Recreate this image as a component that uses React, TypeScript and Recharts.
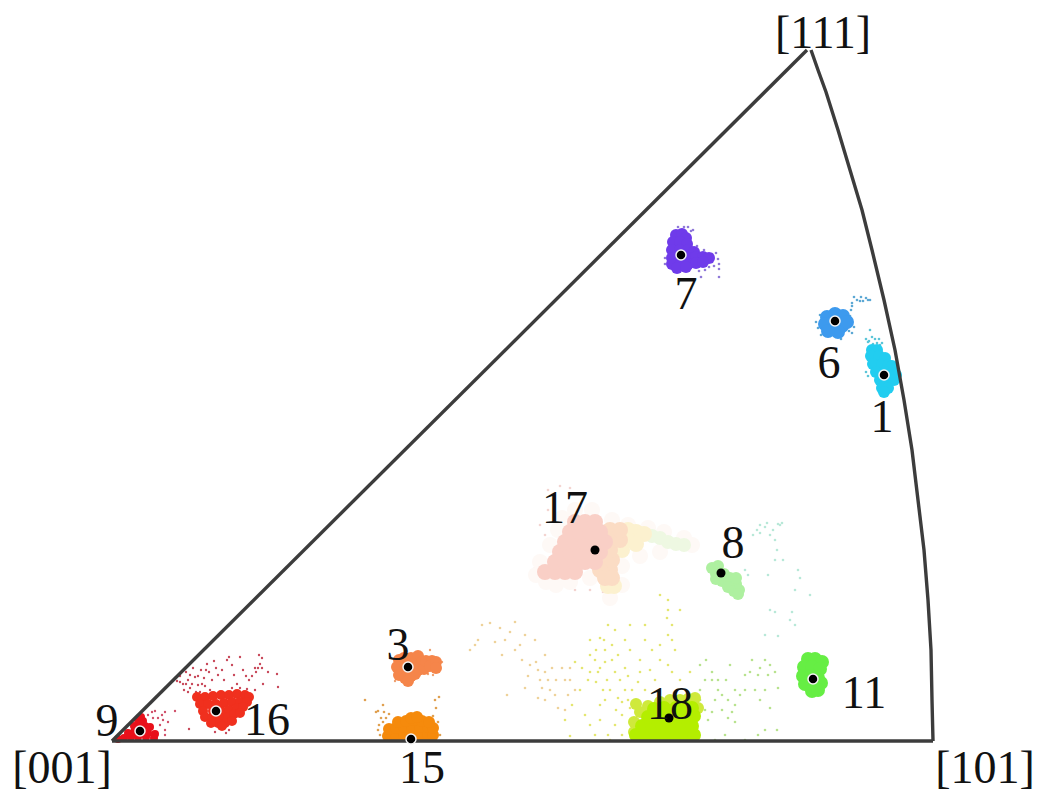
import { ScatterChart, Scatter, XAxis, YAxis } from "recharts"

// all values, in image units (y grows downwards)
const edgeLeft = [[112, 741], [807, 50]]
const edgeBottom = [[112, 741], [933, 741]]
const edgeArc = [[811, 50], [818, 70], [826, 92], [838, 130], [850, 170], [862, 210], [872, 250], [884, 300], [895, 350], [904, 400], [912, 450], [918, 500], [924, 550], [928, 600], [931, 650], [932, 700], [933, 741]]

const orientations = [[681, 255], [835, 321], [884, 375], [408, 667], [140, 731], [216, 711], [411, 739], [813, 679]]
const orientationsPale = [[595, 550], [721, 573], [669, 718]]

const labels = [
  { x: 823, y: 32, text: "[111]" },
  { x: 62, y: 767, text: "[001]" },
  { x: 985, y: 767, text: "[101]" },
  { x: 686, y: 293, text: "7" },
  { x: 829, y: 362, text: "6" },
  { x: 882, y: 416, text: "1" },
  { x: 565, y: 507, text: "17" },
  { x: 733, y: 542, text: "8" },
  { x: 398, y: 644, text: "3" },
  { x: 107, y: 720, text: "9" },
  { x: 267, y: 719, text: "16" },
  { x: 422, y: 767, text: "15" },
  { x: 670, y: 703, text: "18" },
  { x: 864, y: 692, text: "11" },
]

const core7 = [[676, 235], [682, 234], [686, 238], [673, 242], [680, 242], [687, 244], [672, 250], [680, 250], [688, 250], [694, 252], [672, 258], [680, 258], [688, 258], [696, 257], [703, 257], [709, 258], [672, 264], [680, 265], [688, 264], [696, 263], [703, 262], [677, 268], [686, 267]]
const specks7 = [[691, 231], [688, 227], [678, 227], [693, 230], [712, 262], [718, 259], [719, 269], [719, 277], [719, 264], [701, 277], [716, 253], [705, 270], [709, 267], [684, 227], [697, 246], [712, 254], [665, 258], [665, 264], [704, 250], [714, 266], [699, 271]]

const core6 = [[835, 321], [827, 317], [835, 314], [843, 316], [825, 324], [833, 328], [842, 326], [847, 322], [838, 332], [828, 331]]
const specks6 = [[852, 303], [854, 297], [860, 301], [861, 297], [868, 300], [870, 300], [851, 310], [852, 306], [850, 316], [821, 335], [849, 331], [854, 327], [820, 315], [857, 300], [863, 301], [866, 298], [841, 339], [818, 328], [816, 322], [852, 333]]

const core1 = [[872, 350], [877, 350], [871, 356], [879, 356], [885, 358], [873, 364], [882, 364], [888, 365], [892, 366], [876, 372], [885, 372], [892, 373], [896, 375], [880, 380], [887, 380], [894, 380], [882, 388], [888, 388], [884, 392]]
const specks1 = [[870, 330], [872, 337], [869, 341], [875, 339], [879, 339], [882, 343], [873, 344], [866, 339], [880, 345], [866, 372], [868, 376], [868, 342], [877, 343]]

const core9 = [[118, 739], [124, 738], [131, 737], [138, 737], [146, 737], [154, 738], [128, 733], [134, 732], [141, 733], [148, 733], [155, 734], [134, 726], [140, 726], [145, 726], [150, 727], [138, 720], [143, 721], [141, 717]]
const specks9 = [[148, 715], [155, 711], [165, 712], [175, 711], [153, 718], [158, 718], [168, 722], [163, 720], [165, 730], [165, 735], [160, 725], [152, 712], [162, 715]]

const core16 = [[197, 697], [205, 697], [213, 696], [221, 695], [229, 695], [237, 694], [245, 695], [249, 697], [200, 704], [208, 704], [216, 704], [224, 703], [232, 702], [240, 702], [247, 702], [203, 711], [213, 711], [221, 711], [229, 710], [237, 708], [243, 707], [205, 717], [212, 718], [220, 718], [228, 717], [234, 714], [240, 713], [225, 723], [218, 723], [211, 723], [232, 721], [222, 726]]
const specks16 = [[177, 681], [180, 676], [183, 684], [186, 672], [188, 680], [190, 688], [184, 690], [193, 668], [195, 677], [198, 685], [196, 692], [201, 670], [204, 678], [205, 686], [207, 664], [209, 672], [212, 680], [214, 661], [216, 668], [218, 675], [222, 670], [224, 680], [227, 660], [229, 657], [232, 665], [234, 675], [237, 684], [232, 688], [240, 657], [243, 670], [246, 676], [249, 680], [252, 676], [256, 672], [258, 668], [260, 664], [262, 658], [259, 655], [255, 668], [262, 668], [268, 672], [277, 674], [278, 687], [263, 684], [255, 690], [247, 689], [240, 688], [210, 690], [200, 692], [186, 684], [188, 692], [189, 729], [215, 732], [226, 733], [229, 730], [190, 675], [198, 676], [206, 670], [192, 684], [202, 684], [180, 682]]

const core3 = [[399, 660], [404, 658], [411, 658], [418, 656], [397, 667], [405, 667], [413, 664], [422, 662], [399, 675], [405, 678], [411, 676], [418, 670], [424, 669], [426, 661], [432, 661], [430, 666], [436, 662], [436, 668], [408, 681], [415, 674]]
const specks3 = [[430, 650], [440, 668], [442, 662], [428, 674], [433, 675], [395, 681]]

const core15 = [[388, 736], [396, 735], [404, 735], [412, 735], [420, 735], [428, 735], [433, 735], [389, 729], [396, 728], [404, 727], [412, 727], [420, 727], [428, 727], [433, 728], [398, 722], [406, 721], [414, 720], [422, 721], [429, 722], [411, 718], [417, 717]]
const specks15 = [[376, 712], [378, 711], [383, 705], [384, 712], [381, 718], [379, 725], [365, 700], [435, 700], [439, 697], [433, 716], [378, 730], [380, 735], [436, 708], [386, 718], [389, 714], [383, 722], [440, 735], [438, 722]]

const core18 = [[636, 735], [646, 735], [656, 735], [666, 735], [676, 735], [686, 735], [694, 735], [642, 726], [652, 726], [662, 726], [672, 726], [682, 726], [692, 726], [648, 717], [658, 717], [668, 717], [678, 717], [688, 717], [694, 716], [654, 709], [664, 708], [676, 708], [686, 708], [692, 708]]
const upper18 = [[695, 698], [688, 699], [680, 700], [670, 700], [660, 702], [648, 706], [640, 712], [634, 722], [634, 732], [636, 704], [698, 708]]
const specksYellow = [[610, 740], [615, 725], [622, 715], [628, 700], [618, 698], [625, 690], [607, 680], [615, 672], [625, 668], [600, 668], [590, 672], [582, 668], [575, 662], [590, 655], [605, 650], [612, 645], [600, 638], [590, 640], [608, 625], [667, 618], [672, 625], [668, 635], [675, 650], [640, 660], [650, 670], [668, 665], [652, 650], [645, 640], [630, 650], [580, 690], [572, 705], [565, 720], [585, 715], [600, 705], [595, 735], [605, 700], [612, 660], [645, 625], [680, 610], [668, 600], [660, 595], [603, 590], [608, 600], [620, 680], [628, 676], [632, 690], [638, 682], [622, 702], [630, 708], [616, 710], [610, 690], [603, 690], [596, 682], [588, 680], [595, 660], [605, 662], [618, 655], [625, 640], [604, 640], [596, 650], [615, 630], [598, 672], [640, 672], [655, 680], [645, 690], [660, 660], [672, 672], [680, 680], [690, 672], [600, 720], [608, 735], [622, 735], [570, 736], [590, 725], [630, 625], [668, 610], [672, 640], [660, 645]]
const specksOrange = [[470, 650], [475, 645], [478, 640], [482, 625], [490, 623], [505, 640], [510, 632], [515, 622], [520, 645], [525, 635], [502, 655], [530, 665], [545, 672], [540, 680], [552, 668], [550, 690], [538, 698], [545, 700], [565, 680], [568, 695], [575, 690], [570, 680], [507, 695], [525, 688], [545, 655], [558, 708], [522, 660], [535, 640], [542, 688], [548, 680], [556, 680], [562, 668], [538, 670], [536, 662], [528, 676], [570, 668], [555, 695], [565, 710], [500, 628], [495, 642], [515, 650]]
const specksGreen = [[700, 665], [706, 660], [712, 672], [718, 680], [722, 695], [728, 700], [735, 705], [715, 700], [700, 690], [708, 720], [728, 718], [735, 722], [745, 690], [755, 690], [760, 668], [770, 665], [745, 675], [752, 660], [765, 690], [778, 688], [770, 708], [765, 730], [758, 735], [777, 730], [745, 740], [725, 735], [715, 740], [700, 700], [712, 680], [760, 700], [705, 710], [712, 712], [722, 710], [732, 712], [718, 690], [726, 680], [735, 690], [750, 672], [758, 675], [765, 660], [740, 695], [768, 675], [775, 672], [705, 680], [730, 665]]

const halo17 = [[536, 575], [546, 582], [540, 562], [550, 545], [558, 530], [562, 518], [575, 510], [592, 510], [612, 520], [628, 525], [648, 528], [664, 532], [684, 538], [692, 545], [660, 552], [640, 556], [622, 566], [622, 585], [610, 598], [590, 578], [570, 582], [556, 585]]
const core17Pink = [[545, 572], [555, 572], [565, 572], [575, 572], [555, 562], [565, 562], [575, 562], [585, 562], [595, 562], [560, 552], [570, 552], [580, 552], [590, 552], [600, 552], [565, 542], [575, 542], [585, 542], [595, 542], [605, 542], [570, 532], [580, 532], [590, 532], [600, 532], [575, 522], [585, 522], [595, 522]]
const core17Peach = [[600, 570], [610, 570], [605, 560], [612, 560], [610, 550], [612, 540], [620, 540], [610, 530], [620, 530], [605, 578], [612, 578]]
const core17Yellow = [[628, 530], [636, 532], [644, 534], [628, 540], [636, 544], [622, 550], [608, 586], [614, 586], [622, 538]]
const core17Green = [[652, 536], [660, 538], [668, 542], [676, 544], [684, 545]]
const specks17 = [[548, 490], [552, 495], [560, 486], [570, 488], [548, 510], [540, 525], [545, 535], [550, 545], [538, 560], [535, 568], [537, 575], [552, 585], [572, 582], [590, 590], [603, 592], [575, 590], [610, 595], [555, 530], [612, 520], [595, 515]]

const core8 = [[712, 568], [718, 566], [716, 574], [724, 574], [722, 581], [730, 578], [728, 587], [736, 584], [734, 591], [739, 590], [716, 579], [736, 578], [738, 594]]
const specks8 = [[760, 525], [767, 523], [780, 525], [778, 524], [773, 530], [775, 540], [777, 550], [775, 560], [783, 560], [753, 535], [760, 533], [798, 570], [800, 578], [768, 575], [795, 590], [810, 595], [770, 610], [775, 612], [790, 620], [795, 625], [792, 612], [765, 635], [778, 636], [742, 595], [748, 575], [765, 527], [770, 535], [782, 523], [757, 530], [745, 570]]

const core11 = [[808, 659], [815, 659], [822, 662], [804, 667], [812, 667], [820, 669], [803, 676], [811, 676], [818, 678], [805, 684], [814, 685], [821, 683], [812, 691], [818, 690]]

const toPoints = (list: number[][]) => list.map(([x, y]) => ({ x, y }))

const dot = (r: number, fill: string, ring?: string) => (props: any) => (
  <circle cx={props.cx} cy={props.cy} r={r} fill={fill} stroke={ring} strokeWidth={ring ? 1.5 : 0} />
)

const noDot = () => null

const labelText = (props: any) => (
  <text
    x={props.cx}
    y={props.cy}
    textAnchor="middle"
    dominantBaseline="central"
    fontFamily="'Liberation Serif', serif"
    fontSize={46}
    fill="#111"
  >
    {props.payload.text}
  </text>
)

// drawn in order: pale specks first, dense blobs over them
const clouds: [number[][], number, string][] = [
  [specksOrange, 1.3, "#eed29a"],
  [specksYellow, 1.3, "#e4e670"],
  [specksGreen, 1.3, "#b8e28e"],
  [specks17, 1.3, "#f3d4d0"],
  [specks8, 1.3, "#b8e8d8"],
  [halo17, 8, "#fef9f6"],
  [core17Green, 7, "#eef8e2"],
  [core17Yellow, 8, "#fcf1cf"],
  [core17Peach, 8, "#fbdcc4"],
  [core17Pink, 8, "#f9cfc6"],
  [core8, 6, "#aef0a0"],
  [upper18, 6, "#cfe93c"],
  [core18, 7, "#b4ee00"],
  [core11, 7, "#66ee44"],
  [specks7, 1.3, "#8f78d8"],
  [core7, 6, "#6f3bea"],
  [specks6, 1.3, "#5ca8d4"],
  [core6, 7, "#3d9aee"],
  [specks1, 1.3, "#5cc5d8"],
  [core1, 6, "#22cdf0"],
  [specks9, 1.2, "#d0506a"],
  [core9, 4, "#e8101a"],
  [specks16, 1.2, "#c8485a"],
  [core16, 5, "#f0301e"],
  [specks3, 1.2, "#eea070"],
  [core3, 6, "#f5854a"],
  [specks15, 1.3, "#e0a050"],
  [core15, 6, "#f58a0c"],
]

const edgeStyle = { stroke: "#3c3c3c", strokeWidth: 3.4 }

export default function App() {
  return (
    <div style={{ position: "absolute", left: 0, top: 0 }}>
      <ScatterChart width={1037} height={792} margin={{ top: 0, right: 0, bottom: 0, left: 0 }}>
        <XAxis type="number" dataKey="x" domain={[0, 1037]} hide />
        <YAxis type="number" dataKey="y" domain={[0, 792]} reversed hide />
        {clouds.map(([list, r, fill], i) => (
          <Scatter key={i} data={toPoints(list)} shape={dot(r, fill)} isAnimationActive={false} />
        ))}
        <Scatter data={toPoints(edgeLeft)} line={edgeStyle} shape={noDot} isAnimationActive={false} />
        <Scatter data={toPoints(edgeBottom)} line={edgeStyle} shape={noDot} isAnimationActive={false} />
        <Scatter data={toPoints(edgeArc)} line={edgeStyle} shape={noDot} isAnimationActive={false} />
        <Scatter data={toPoints(orientations)} shape={dot(5, "#000", "#f4f4f4")} isAnimationActive={false} />
        <Scatter data={toPoints(orientationsPale)} shape={dot(4.5, "#000")} isAnimationActive={false} />
        <Scatter data={labels} shape={labelText} isAnimationActive={false} />
      </ScatterChart>
    </div>
  )
}
